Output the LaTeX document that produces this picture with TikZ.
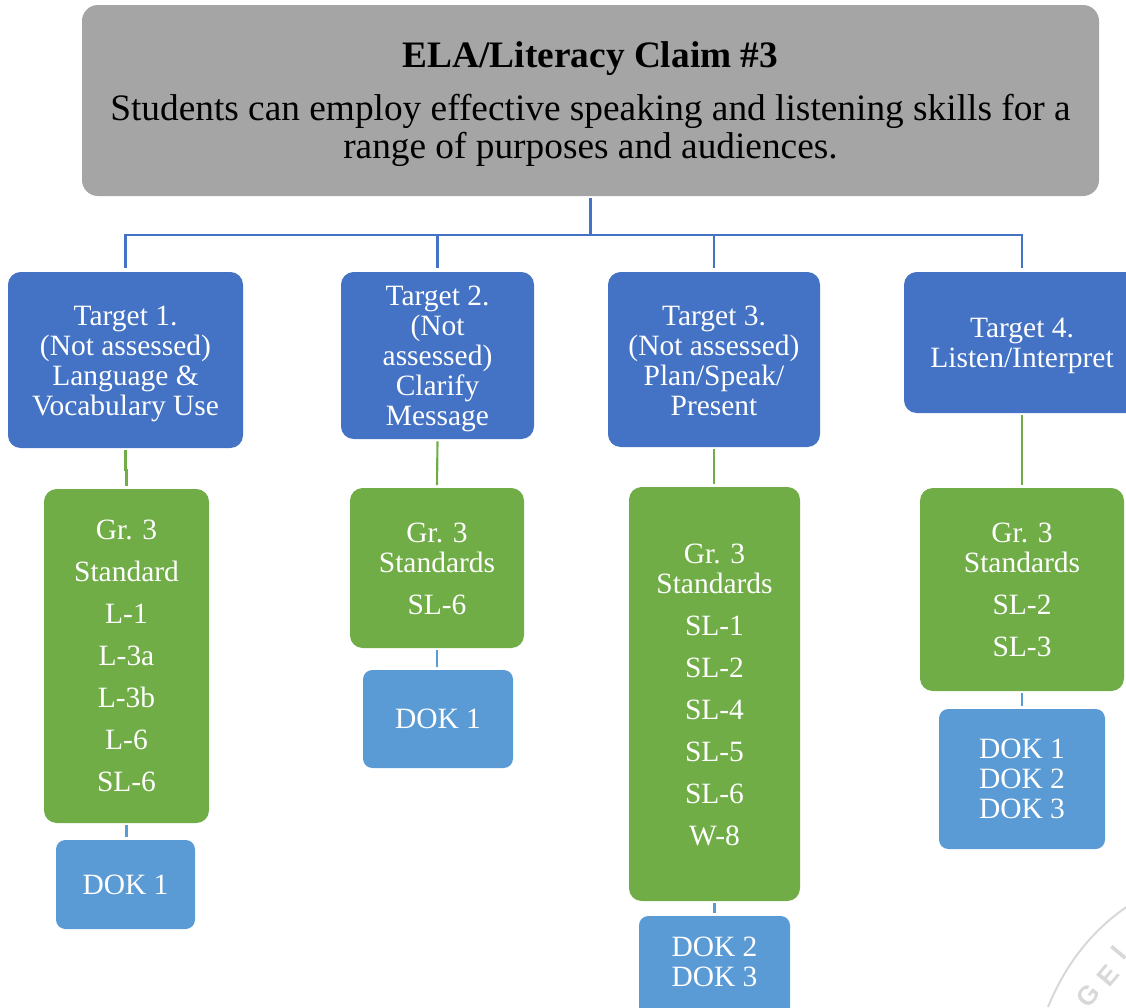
\documentclass[tikz,border=0pt]{standalone}
\usepackage{fontspec}
\setmainfont{Liberation Serif}
\setsansfont{Liberation Sans}
\definecolor{hdrgray}{HTML}{A5A5A5}
\definecolor{tblue}{HTML}{4472C4}
\definecolor{sgreen}{HTML}{70AD47}
\definecolor{dblue}{HTML}{5B9BD5}
\definecolor{sealgray}{HTML}{D8D8D8}
\newcommand{\shiftedtext}[2]{\raisebox{#1}[\height][\depth]{\begin{tabular}{@{}c@{}}#2\end{tabular}}}
\tikzset{
  x=0.75pt,y=-0.75pt,
  sz/.style 2 args={minimum width=#1*0.75pt,minimum height=#2*0.75pt},
  box/.style={rectangle,rounded corners=9.5pt,inner sep=0pt,align=center,text=white,font=\fontsize{22.1}{22.5}\selectfont},
  hdrbox/.style={box,fill=hdrgray,text=black,rounded corners=12pt,font=\fontsize{28}{28.5}\selectfont},
  targetbox/.style={box,fill=tblue},
  stdbox/.style={box,fill=sgreen},
  dokbox/.style={box,fill=dblue,rounded corners=7pt},
  busline/.style={draw=tblue,line width=1.7pt},
  stdline/.style={draw=sgreen,line width=1.6pt,shorten <=1.5pt,shorten >=2pt},
  dokline/.style={draw=dblue,line width=1.6pt,shorten <=1.5pt,shorten >=2pt},
  sealtext/.style={font=\sffamily\bfseries\fontsize{20}{20}\selectfont,text=sealgray,rotate=50,inner sep=0pt},
}
\begin{document}
\begin{tikzpicture}
\useasboundingbox (0,0) rectangle (1126,1007);
\clip (0,0) rectangle (1126,1007);
% faint seal in the corner
\draw[sealgray,line width=1.5pt] (1048,1007) .. controls (1065,965) and (1092,930) .. (1128,906);
\node[sealtext] (sealg) at (1088,996) {G};
\node[sealtext] (seale) at (1108,976) {E};
\node[sealtext] (seali) at (1119,953) {I};
% boxes
\node[hdrbox,sz={1017}{191}] (hdr) at (590.5,100.5) {\shiftedtext{-3.5pt}{{\bfseries ELA/Literacy Claim \#3}\\[11.5pt]Students can employ effective speaking and listening skills for a\\range of purposes and audiences.}};
\node[targetbox,sz={235}{176}] (t1) at (125.5,360) {\shiftedtext{-3.5pt}{Target 1.\\(Not assessed)\\Language \&\\Vocabulary Use}};
\node[targetbox,sz={193}{167}] (t2) at (437.5,355.5) {\shiftedtext{-3.25pt}{Target 2.\\(Not\\assessed)\\Clarify\\Message}};
\node[targetbox,sz={212}{175}] (t3) at (714,359.5) {\shiftedtext{-3.5pt}{Target 3.\\(Not assessed)\\Plan/Speak/\\Present}};
\node[targetbox,sz={236}{141}] (t4) at (1022,342.5) {\shiftedtext{-3.25pt}{Target 4.\\Listen/Interpret}};
\node[stdbox,sz={165}{334}] (g1) at (126.5,656) {Gr. 3\\[9pt]Standard\\[9pt]L-1\\[9pt]L-3a\\[9pt]L-3b\\[9pt]L-6\\[9pt]SL-6};
\node[stdbox,sz={174}{160}] (g2) at (437,568) {\shiftedtext{-3.25pt}{Gr. 3\\Standards\\[9pt]SL-6}};
\node[stdbox,sz={171}{414}] (g3) at (714.5,694) {\shiftedtext{-3.1pt}{Gr. 3\\Standards\\[9pt]SL-1\\[9pt]SL-2\\[9pt]SL-4\\[9pt]SL-5\\[9pt]SL-6\\[9pt]W-8}};
\node[stdbox,sz={204}{203}] (g4) at (1022,589.5) {\shiftedtext{-2.75pt}{Gr. 3\\Standards\\[9pt]SL-2\\[9pt]SL-3}};
\node[dokbox,sz={139}{89}] (d1) at (125.5,884.5) {DOK 1};
\node[dokbox,sz={150}{98}] (d2) at (438,719) {DOK 1};
\node[dokbox,sz={151}{102}] (d3) at (714.5,967) {\shiftedtext{1.5pt}{DOK 2\\DOK 3}};
\node[dokbox,sz={166}{140}] (d4) at (1022,779) {DOK 1\\DOK 2\\DOK 3};
% connectors
\draw[busline,line width=2.2pt,shorten <=1.5pt] (hdr.south) -- ++(0,39) coordinate (bus);
\draw[busline,shorten >=2.5pt] (bus) -| (t1.north);
\draw[busline,shorten >=2.5pt] (bus) -| (t2.north);
\draw[busline,shorten >=2.5pt] (bus) -| (t3.north);
\draw[busline,shorten >=2.5pt] (bus) -| (t4.north);
\draw[stdline] (t1.south) -- ++(0,22) -| (g1.north);
\draw[stdline] (t2.south) -- (g2.north);
\draw[stdline] (t3.south) -- (t3.south |- g3.north);
\draw[stdline] (t4.south) -- (g4.north);
\draw[dokline] (g1.south) -- (g1.south |- d1.north);
\draw[dokline] (g2.south) -- (g2.south |- d2.north);
\draw[dokline] (g3.south) -- (d3.north);
\draw[dokline] (g4.south) -- (d4.north);
\end{tikzpicture}
\end{document}
